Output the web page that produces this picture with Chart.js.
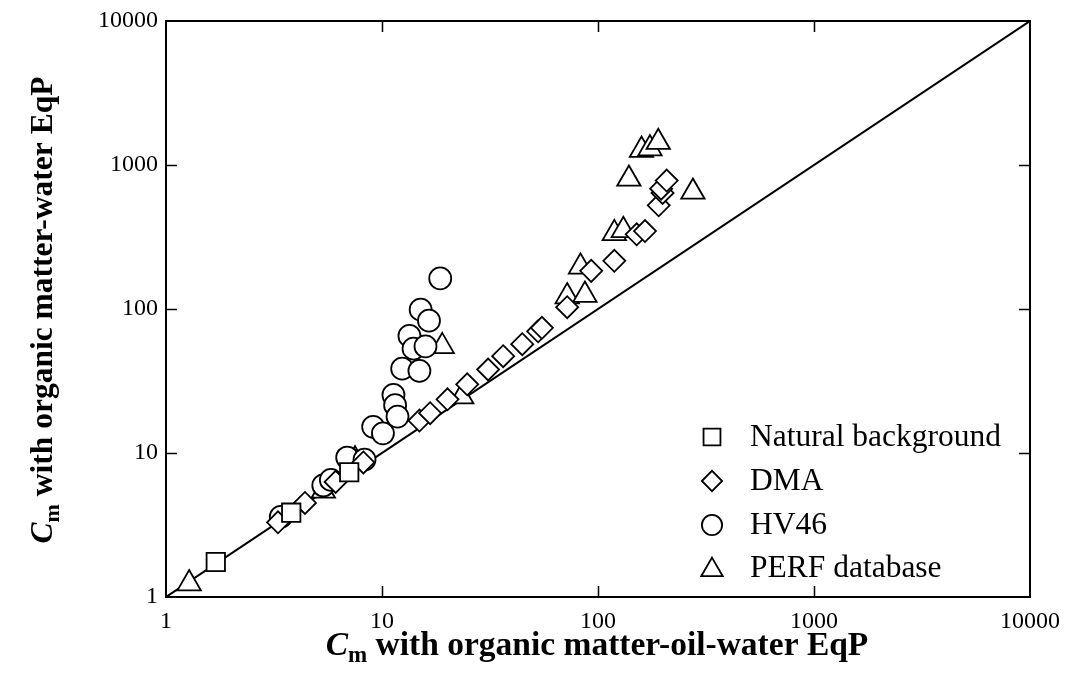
<!DOCTYPE html>
<html><head><meta charset="utf-8">
<script src="https://cdn.jsdelivr.net/npm/chart.js@4.4.0/dist/chart.umd.min.js"></script>
<style>html,body{margin:0;padding:0;background:#fff}#wrap{width:1066px;height:682px;position:relative}</style>
</head><body><div id="wrap"><canvas id="c" width="1066" height="682"></canvas></div>
<script>
const TICKS = [1, 10, 100, 1000, 10000];
const SERIES_NAMES = ['Natural background', 'DMA', 'HV46', 'PERF database'];
const naturalBackground = [[1.7,1.75],[3.8,3.85],[7.05,7.35]];
const dma = [[3.3,3.3],[4.4,4.5],[6.1,6.3],[8.2,8.6],[14.9,16.8],[16.7,18.9],[20.1,23.6],[24.8,30],[31,38],[36.4,47],[44.6,57],[52.8,70],[55,74],[72,103],[93,184],[119,216],[151,330],[165,348],[191,525],[199,640],[196,685],[208,780]];
const hv46 = [[3.4,3.6],[5.35,5.95],[5.8,6.5],[6.9,9.3],[8.3,9.0],[9.1,15.2],[10.1,13.7],[11.3,25.3],[11.5,21.5],[11.8,17.9],[12.4,38.5],[14.9,37.2],[13.4,65],[14.0,53],[15.9,55],[15.1,99],[16.5,83],[18.6,163]];
const perf = [[1.28,1.24],[5.35,5.45],[7.5,9.0],[19,55],[23.4,24.6],[72,122],[87,125],[83,196],[119,335],[131,352],[139,800],[159,1270],[174,1300],[190,1440],[275,650]];
const oneToOne = [[1,1],[10000,10000]];

const toXY = a => a.map(p => ({x:p[0], y:p[1]}));
const SERIF = '"Liberation Serif", "Times New Roman", serif';

const markerDefs = [
  {style:'rect', r:13},
  {style:'rectRot', r:11},
  {style:'circle', r:11},
  {style:'triangle', r:13.5}
];
const seriesData = [naturalBackground, dma, hv46, perf];

const datasets = seriesData.map((d,i) => ({
  label: SERIES_NAMES[i], data: toXY(d), showLine:false,
  pointStyle: markerDefs[i].style, pointRadius: markerDefs[i].r, pointHoverRadius: markerDefs[i].r,
  backgroundColor:'#fff', borderColor:'#000', pointBorderWidth:1.8, borderWidth:1.8
}));
datasets.push({label:'1:1', type:'line', data: toXY(oneToOne), borderColor:'#000', borderWidth:2, pointRadius:0, fill:false});

const framePlugin = {
  id:'frame',
  afterDatasetsDraw(chart){
    const {ctx, chartArea:a, scales:{x, y}} = chart;
    ctx.save();
    ctx.strokeStyle='#000'; ctx.lineWidth=2;
    ctx.strokeRect(a.left, a.top, a.right-a.left, a.bottom-a.top);
    ctx.lineWidth=1.5;
    const L=11;
    ctx.beginPath();
    TICKS.slice(1,-1).forEach(v=>{
      const px=Math.round(x.getPixelForValue(v))+0.5;
      ctx.moveTo(px,a.bottom); ctx.lineTo(px,a.bottom-L);
      ctx.moveTo(px,a.top); ctx.lineTo(px,a.top+L);
      const py=Math.round(y.getPixelForValue(v))+0.5;
      ctx.moveTo(a.left,py); ctx.lineTo(a.left+L,py);
      ctx.moveTo(a.right,py); ctx.lineTo(a.right-L,py);
    });
    ctx.stroke();
    ctx.restore();
  }
};

function drawTitle(ctx, cx, cy, rotate, rest, F){
  const fC='italic bold '+F+'px '+SERIF;
  const fm='bold '+Math.round(F*0.7)+'px '+SERIF;
  const fr='bold '+F+'px '+SERIF;
  ctx.save();
  ctx.translate(cx,cy); if(rotate) ctx.rotate(-Math.PI/2);
  ctx.fillStyle='#000'; ctx.textBaseline='alphabetic'; ctx.textAlign='left';
  ctx.font=fC; const wC=ctx.measureText('C').width;
  ctx.font=fm; const wm=ctx.measureText('m').width;
  ctx.font=fr; const wr=ctx.measureText(rest).width;
  const total=wC+wm+wr;
  let x0=-total/2;
  ctx.font=fC; ctx.fillText('C',x0,0); x0+=wC;
  ctx.font=fm; ctx.fillText('m',x0,F*0.22); x0+=wm;
  ctx.font=fr; ctx.fillText(rest,x0,0);
  ctx.restore();
}

const textPlugin = {
  id:'texts',
  afterDraw(chart){
    const ctx=chart.ctx;
    drawTitle(ctx, 597, 655, false, ' with organic matter-oil-water EqP', 33.5);
    drawTitle(ctx, 52, 310, true, ' with organic matter-water EqP', 31.5);
    const ly=[437,481,525,568];
    ctx.save();
    ctx.font='31.5px '+SERIF; ctx.textBaseline='middle'; ctx.textAlign='left';
    SERIES_NAMES.forEach((n,i)=>{
      ctx.strokeStyle='#000'; ctx.fillStyle='#fff'; ctx.lineWidth=1.8;
      const r = markerDefs[i].r*0.92;
      Chart.helpers.drawPoint(ctx,{pointStyle:markerDefs[i].style, radius:r, borderWidth:1.8}, 712, ly[i] + (markerDefs[i].style==='triangle'?2:0));
      ctx.fillStyle='#000';
      ctx.fillText(n, 750, ly[i]+1);
    });
    ctx.restore();
  }
};

new Chart(document.getElementById('c'), {
  type:'scatter',
  data:{datasets},
  options:{
    responsive:false, animation:false, devicePixelRatio:1,
    layout:{padding:{top:21,right:36,left:0,bottom:0}},
    plugins:{legend:{display:false}, tooltip:{enabled:false}},
    scales:{
      x:{type:'logarithmic', min:1, max:10000,
        afterBuildTicks:s=>{s.ticks=TICKS.map(v=>({value:v}));},
        afterFit:s=>{s.height=85; s.paddingRight=0; s.paddingLeft=0;},
        grid:{display:false, drawTicks:false}, border:{display:false},
        ticks:{autoSkip:false, maxRotation:0, padding:10, color:'#000', font:{family:SERIF, size:24}, callback:v=>String(v)}},
      y:{type:'logarithmic', min:1, max:10000,
        afterBuildTicks:s=>{s.ticks=TICKS.map(v=>({value:v}));},
        afterFit:s=>{s.width=166; s.paddingTop=0; s.paddingBottom=0;},
        grid:{display:false, drawTicks:false}, border:{display:false},
        ticks:{autoSkip:false, padding:8, color:'#000', font:{family:SERIF, size:24}, callback:v=>String(v)}}
    }
  },
  plugins:[framePlugin, textPlugin]
});
</script>
</body></html>
